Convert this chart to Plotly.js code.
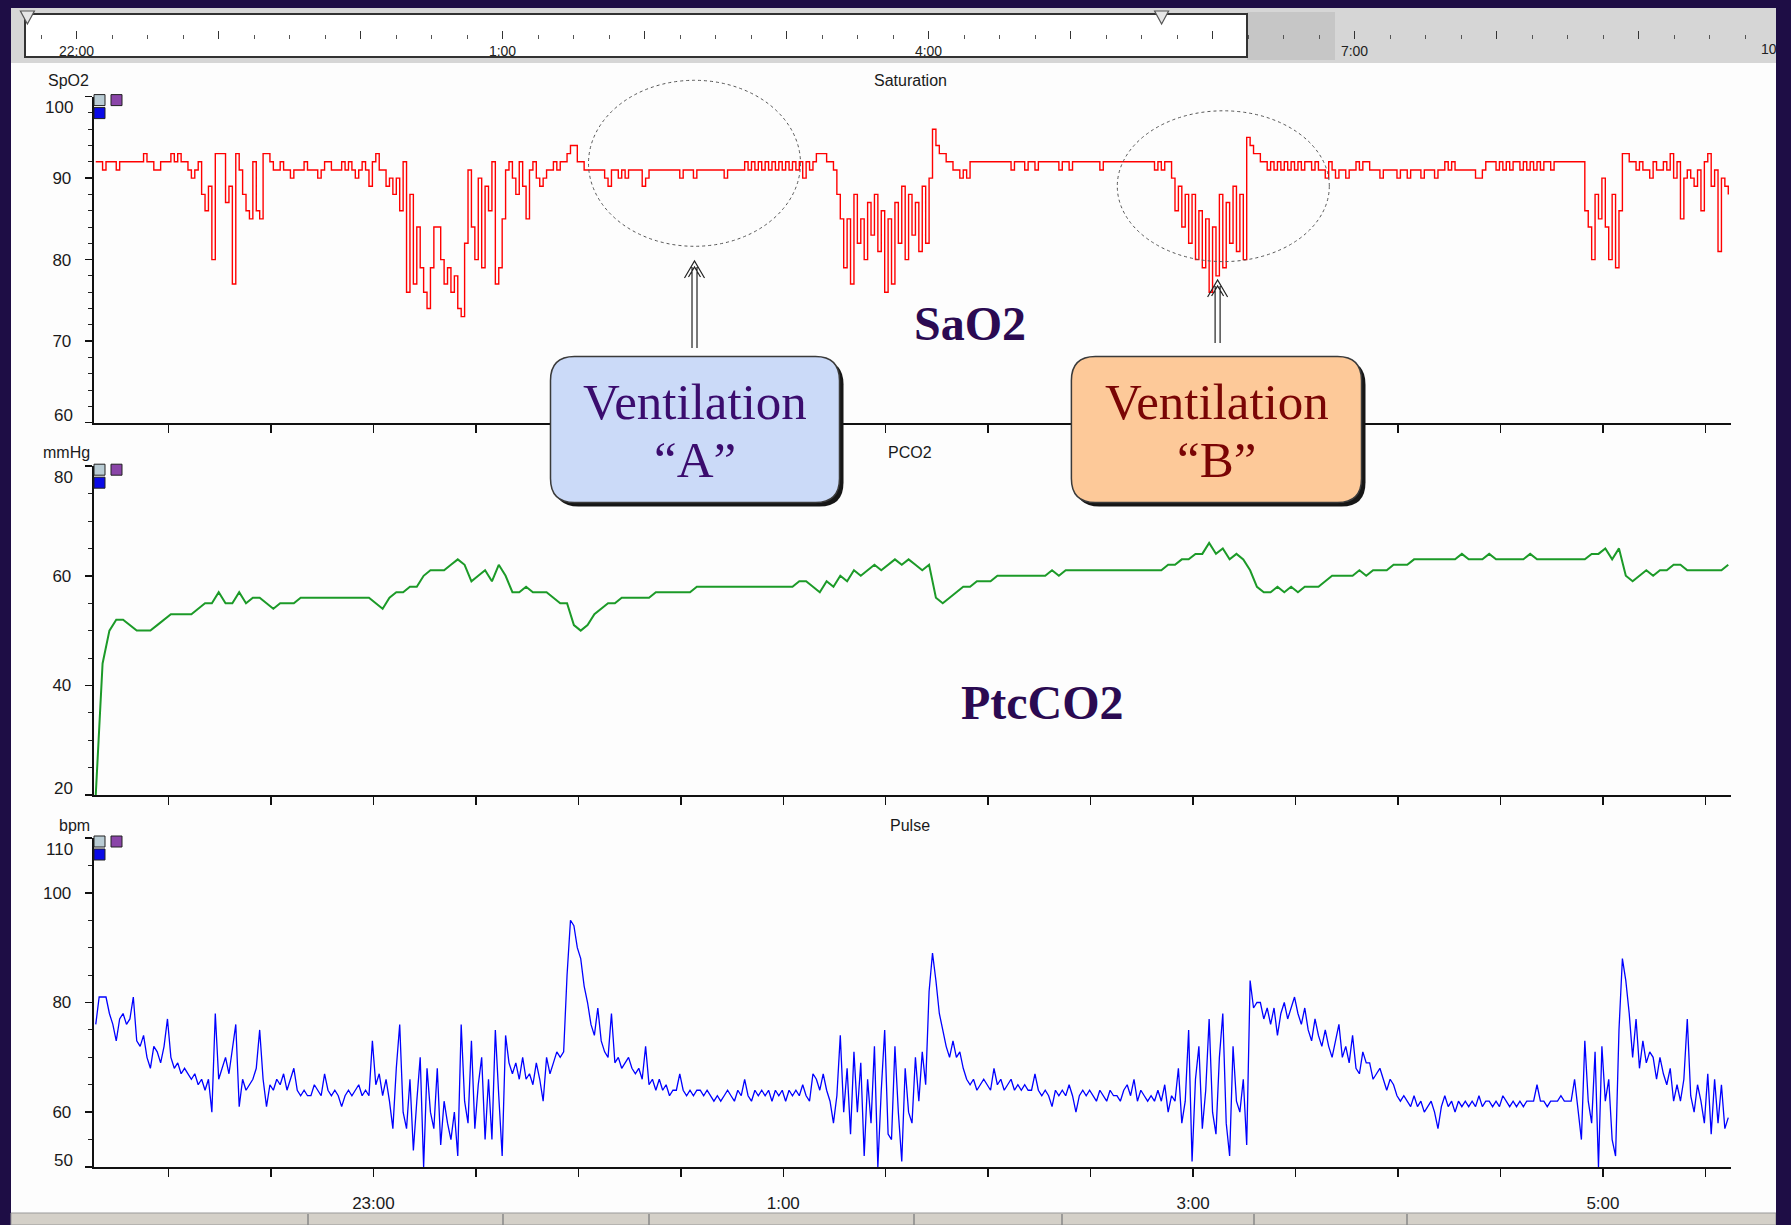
<!DOCTYPE html>
<html>
<head>
<meta charset="utf-8">
<script src="https://cdn.plot.ly/plotly-3.0.1.min.js"></script>
<style>
  html, body { margin: 0; padding: 0; background: #1e0d45; }
  #chart { width: 1791px; height: 1225px; }
</style>
</head>
<body>
<div id="chart"></div>
<script>
// Overnight recording: SpO2 and pulse sampled every minute, PCO2 every 2 minutes.
const startHour = 21.645;          // 21:38:42, first sample
const stepMinutes = 1;
const pco2StepMinutes = 2;

const spo2 = [
  92,92,91,92,92,92,91,92,92,92,92,92,92,92,93,92,92,91,91,92,
  92,92,93,92,93,92,92,91,90,91,92,88,86,89,80,93,93,93,87,89,
  77,93,91,88,86,85,92,86,85,93,93,92,91,91,92,91,91,90,91,91,
  91,92,91,91,91,90,91,92,92,91,91,91,92,91,92,91,90,91,92,91,
  89,92,93,91,91,89,90,88,90,86,92,76,88,77,84,79,76,74,79,84,
  84,80,77,79,76,78,74,73,82,91,84,80,90,79,89,86,92,77,79,85,
  91,92,90,88,92,89,85,91,92,90,89,90,91,91,92,91,92,92,93,94,
  94,92,92,91,91,91,91,91,91,90,89,91,91,90,91,90,91,91,91,91,
  89,90,91,91,91,91,91,91,91,91,91,90,91,91,91,90,91,91,91,91,
  91,91,91,91,90,91,91,91,91,91,92,91,92,91,92,91,92,91,92,91,
  92,91,92,91,92,91,92,90,92,91,92,93,93,93,92,92,91,88,85,79,
  85,77,88,82,85,80,87,83,88,81,86,76,85,77,87,82,89,80,88,83,
  87,81,89,82,90,96,94,93,93,92,92,91,91,90,91,90,92,92,92,92,
  92,92,92,92,92,92,92,92,91,92,92,92,91,92,92,91,92,92,92,92,
  92,92,91,92,92,91,92,92,92,92,92,92,92,92,91,92,92,92,92,92,
  92,92,92,92,92,92,92,92,92,92,91,92,91,92,92,90,86,89,84,88,
  82,88,80,86,79,85,76,84,78,88,79,87,82,89,81,88,80,95,94,93,
  93,92,92,91,92,91,92,91,92,91,92,91,92,91,92,92,91,92,91,91,
  90,92,91,90,91,91,90,91,91,92,91,92,92,91,91,91,90,91,91,91,
  91,90,91,91,90,91,91,91,90,91,91,91,90,91,91,92,91,92,91,91,
  91,91,91,91,90,90,91,92,92,92,91,92,91,92,91,92,92,91,92,91,
  92,91,92,91,92,92,91,92,92,92,92,92,92,92,92,92,86,84,80,88,
  85,90,84,80,88,79,86,93,93,92,92,91,92,91,91,90,92,91,91,92,
  91,93,90,92,85,90,91,90,89,91,86,92,93,89,91,81,90,89,88
];

const pulse = [
  76,81,81,81,78,76,73,77,78,76,77,81,73,72,74,70,68,72,71,69,
  72,77,70,68,69,67,68,67,66,67,65,66,64,66,60,78,66,68,70,67,
  72,76,61,66,64,65,66,68,75,66,61,65,64,66,65,67,64,66,68,64,
  63,64,63,63,65,64,63,67,64,63,64,63,61,63,64,63,64,65,63,64,
  63,73,65,67,63,66,62,57,68,76,60,57,66,53,62,70,50,68,60,57,
  68,54,62,58,55,60,52,76,62,58,73,57,65,70,55,66,55,75,63,52,
  74,69,67,69,66,70,66,67,65,69,66,62,70,67,69,71,70,71,85,95,
  94,90,88,83,80,76,74,79,73,71,70,78,69,70,68,69,70,68,67,68,
  66,72,65,66,64,66,64,65,63,64,64,67,64,63,64,63,64,64,63,64,
  63,62,63,62,63,64,63,62,64,63,66,63,62,64,63,64,63,64,62,64,
  63,64,62,64,63,64,63,65,63,62,67,66,64,67,64,62,58,63,74,60,
  68,56,71,60,69,52,66,58,72,50,64,75,56,55,72,60,51,68,60,58,
  70,62,71,65,82,89,84,78,75,72,70,73,70,71,68,66,65,66,64,65,
  66,65,64,68,65,66,64,65,66,64,65,64,65,64,64,67,64,63,64,63,
  61,64,63,64,63,65,63,60,63,64,63,64,63,62,64,63,62,64,63,63,
  62,64,65,63,66,62,64,63,62,63,62,64,62,65,60,63,62,68,58,62,
  75,51,66,72,57,64,77,60,56,70,78,58,52,72,62,60,66,54,84,79,
  80,80,77,79,76,79,74,78,80,77,79,81,78,76,79,75,73,77,74,72,
  75,72,70,73,76,70,72,69,74,68,67,71,69,69,66,67,68,66,64,66,
  65,63,62,63,62,61,63,61,62,60,61,62,60,57,61,63,61,62,60,62,
  61,62,61,62,61,63,61,62,62,61,62,61,63,62,61,62,61,62,61,62,
  62,62,65,62,62,61,62,62,62,63,62,62,62,66,60,55,73,62,58,71,
  50,72,62,66,55,52,75,88,84,78,70,77,68,73,69,71,70,66,70,67,
  65,68,62,65,62,66,77,63,60,65,62,58,67,56,66,58,65,57,59
];

const pco2 = [
  20,44,50,52,52,51,50,50,50,51,
  52,53,53,53,53,54,55,55,57,55,
  55,57,55,56,56,55,54,55,55,55,
  56,56,56,56,56,56,56,56,56,56,
  56,55,54,56,57,57,58,58,60,61,
  61,61,62,63,62,59,60,61,59,62,
  60,57,57,58,57,57,57,56,55,55,
  51,50,51,53,54,55,55,56,56,56,
  56,56,57,57,57,57,57,57,58,58,
  58,58,58,58,58,58,58,58,58,58,
  58,58,58,59,59,58,57,59,58,60,
  59,61,60,61,62,61,62,63,62,63,
  62,61,62,56,55,56,57,58,58,59,
  59,59,60,60,60,60,60,60,60,60,
  61,60,61,61,61,61,61,61,61,61,
  61,61,61,61,61,61,61,62,62,63,
  63,64,64,66,64,65,63,64,63,61,
  58,57,57,58,57,58,57,58,58,58,
  59,60,60,60,60,61,60,61,61,61,
  62,62,62,63,63,63,63,63,63,63,
  64,63,63,63,64,63,63,63,63,63,
  64,63,63,63,63,63,63,63,63,64,
  64,65,63,65,60,59,60,61,60,61,
  61,62,62,61,61,61,61,61,61,62
];

// Time axis (hours; values past 24 are after midnight)
const axisTickHours = [22,22.5,23,23.5,24,24.5,25,25.5,26,26.5,27,27.5,28,28.5,29,29.5];
const axisTickText  = ['','','23:00','','','','1:00','','','','3:00','','','','5:00',''];
const overviewHours = [22,23,24,25,26,27,28,29,30,31,32,33];
const overviewText  = ['22:00','','','1:00','','','4:00','','','7:00','',''];
const overviewEdgeLabel = '10';

// Value axes: ticks, and which tick labels sit inside the axis ends
const spo2Ticks  = [60,70,80,90,100];
const pco2Ticks  = [20,40,60,80];
const pulseTicks = [50,60,80,100,110];

const hoursAt = (arr, step) => arr.map((_, i) => startHour + i * step / 60);

// ---------- page geometry helpers (pixels -> paper fractions) ----------
const W = 1791, H = 1225;
const px = x => x / W;
const py = y => 1 - y / H;
const P = (x, y) => px(x).toFixed(5) + ',' + py(y).toFixed(5);

function roundedPath(x0, y0, x1, y1, r) {
  return 'M' + P(x0 + r, y0) + ' L' + P(x1 - r, y0) + ' Q' + P(x1, y0) + ' ' + P(x1, y0 + r) +
    ' L' + P(x1, y1 - r) + ' Q' + P(x1, y1) + ' ' + P(x1 - r, y1) +
    ' L' + P(x0 + r, y1) + ' Q' + P(x0, y1) + ' ' + P(x0, y1 - r) +
    ' L' + P(x0, y0 + r) + ' Q' + P(x0, y0) + ' ' + P(x0 + r, y0) + ' Z';
}
function rect(x0, y0, x1, y1, fill, line, layer) {
  return { type: 'rect', xref: 'paper', yref: 'paper', x0: px(x0), x1: px(x1), y0: py(y1), y1: py(y0),
    fillcolor: fill, line: line || { width: 0 }, layer: layer || 'below' };
}
function arrowPath(x, tip, bottom) {
  return 'M' + P(x - 2.5, bottom) + ' L' + P(x - 2.5, tip + 6) +
    ' M' + P(x + 2.5, bottom) + ' L' + P(x + 2.5, tip + 6) +
    ' M' + P(x - 10, tip + 17) + ' L' + P(x, tip) + ' L' + P(x + 10, tip + 17) +
    ' M' + P(x - 6, tip + 16) + ' L' + P(x, tip + 6) + ' L' + P(x + 6, tip + 16);
}

const axisLeft = 93.7;
const panelX = [px(axisLeft), px(1731)];
const timeRange = [21.635, 29.625];
const panelTop = { p1: 96.6, p2: 466.2, p3: 838 };

const labelFamily = 'Liberation Sans, Arial, sans-serif';
const tickFont = { family: labelFamily, size: 17, color: '#1a1a1a' };

const xCommon = {
  range: timeRange, domain: panelX, showgrid: false, zeroline: false,
  showline: true, linecolor: '#111', linewidth: 2,
  ticks: 'outside', ticklen: 8, tickwidth: 1.5, tickcolor: '#111',
  tickmode: 'array', tickvals: axisTickHours, ticktext: axisTickText,
  tickfont: { family: labelFamily, size: 17, color: '#1a1a1a' },
  fixedrange: true
};
// End-of-axis labels are drawn separately (nudged inside the axis span)
function yAxis(domain, range, ticks, minorStep, anchor) {
  const text = ticks.map(v => (v === range[0] || v === range[1]) ? '' : String(v));
  return {
    domain: domain, range: range, anchor: anchor, showgrid: false, zeroline: false,
    showline: true, linecolor: '#111', linewidth: 2,
    ticks: 'outside', ticklen: 7, tickwidth: 1.5, tickcolor: '#111',
    tickmode: 'array', tickvals: ticks, ticktext: text, tickfont: tickFont, ticklabelstandoff: 10,
    minor: { tickmode: 'linear', tick0: range[0], dtick: minorStep, ticks: 'outside', ticklen: 4, tickwidth: 1, tickcolor: '#222' },
    fixedrange: true
  };
}
function endLabels(yref, range) {
  return [
    { text: String(range[1]), xref: 'paper', yref: yref, x: px(axisLeft), y: range[1], xanchor: 'right', yanchor: 'middle',
      xshift: -19, yshift: -11, showarrow: false, font: tickFont },
    { text: String(range[0]), xref: 'paper', yref: yref, x: px(axisLeft), y: range[0], xanchor: 'right', yanchor: 'middle',
      xshift: -19, yshift: 7, showarrow: false, font: tickFont }
  ];
}

const traces = [
  { type: 'scatter', mode: 'lines', x: hoursAt(spo2, stepMinutes), y: spo2, xaxis: 'x', yaxis: 'y',
    line: { color: '#ff0000', width: 1.4, shape: 'hv' }, hoverinfo: 'skip' },
  { type: 'scatter', mode: 'lines', x: hoursAt(pco2, pco2StepMinutes), y: pco2, xaxis: 'x2', yaxis: 'y2',
    line: { color: '#1c9a28', width: 2, shape: 'linear' }, hoverinfo: 'skip' },
  { type: 'scatter', mode: 'lines', x: hoursAt(pulse, stepMinutes), y: pulse, xaxis: 'x3', yaxis: 'y3',
    line: { color: '#0000ff', width: 1.3 }, hoverinfo: 'skip' },
  { type: 'scatter', mode: 'lines', x: [], y: [], xaxis: 'x4', yaxis: 'y4', hoverinfo: 'skip' }
];

// ---------- window chrome ----------
const shapes = [
  rect(11, 8, 1776, 1225, '#fdfdfd'),
  rect(11, 8, 1776, 63, '#d6d6d6'),
  rect(1247, 12, 1335, 60, '#c6c6c6'),
  rect(25, 14, 1247, 57, '#ffffff', { color: '#333', width: 2 }),
  rect(11, 1213, 1776, 1225, '#d4d0c8', { color: '#999', width: 1 }),
];
[308, 503, 649, 914, 1062, 1254, 1407].forEach(x => {
  shapes.push({ type: 'line', xref: 'paper', yref: 'paper', x0: px(x), x1: px(x), y0: py(1214), y1: py(1225),
    line: { color: '#888', width: 1.5 }, layer: 'below' });
});
[27.4, 1161.6].forEach(x => {
  shapes.push({ type: 'path', xref: 'paper', yref: 'paper', layer: 'above',
    path: 'M' + P(x - 7, 11) + ' L' + P(x + 7, 11) + ' L' + P(x, 24) + ' Z',
    fillcolor: '#e6e6e6', line: { color: '#555', width: 1.2 } });
});

// small channel markers at the top of each value axis
Object.values(panelTop).forEach(top => {
  shapes.push(rect(94, top - 2, 105, top + 9, '#b9ccd4', { color: '#222', width: 1 }, 'above'));
  shapes.push(rect(111, top - 2, 122, top + 9, '#8a45a8', { color: '#222', width: 1 }, 'above'));
  shapes.push(rect(94, top + 11, 105, top + 22, '#0a0ae6', { color: '#222', width: 1 }, 'above'));
});

// highlighted regions
shapes.push({ type: 'circle', xref: 'paper', yref: 'paper', layer: 'above',
  x0: px(588.5), x1: px(800.5), y0: py(246.3), y1: py(80.3),
  line: { color: '#555', width: 1, dash: 'dot' } });
shapes.push({ type: 'circle', xref: 'paper', yref: 'paper', layer: 'above',
  x0: px(1117.3), x1: px(1329.3), y0: py(261.6), y1: py(110.8),
  line: { color: '#555', width: 1, dash: 'dot' } });

// arrows
shapes.push({ type: 'path', xref: 'paper', yref: 'paper', layer: 'above',
  path: arrowPath(694.5, 261, 348), line: { color: '#222', width: 1.2 } });
shapes.push({ type: 'path', xref: 'paper', yref: 'paper', layer: 'above',
  path: arrowPath(1217.6, 280, 343), line: { color: '#222', width: 1.2 } });

// callout boxes with drop shadow
const boxA = [550.5, 356.4, 839.5, 502.6];
const boxB = [1071.4, 356.4, 1361.5, 502.6];
[[boxA, '#cbdaf8'], [boxB, '#fdc999']].forEach(([b, fill]) => {
  shapes.push({ type: 'path', xref: 'paper', yref: 'paper', layer: 'above',
    path: roundedPath(b[0] + 4, b[1] + 4, b[2] + 4, b[3] + 4, 24), fillcolor: '#161616', line: { width: 0 } });
  shapes.push({ type: 'path', xref: 'paper', yref: 'paper', layer: 'above',
    path: roundedPath(b[0], b[1], b[2], b[3], 24), fillcolor: fill, line: { color: '#3a3a3a', width: 1.5 } });
});

// dark frame on the right edge
shapes.push(rect(1776, 0, 1791, 1225, '#1e0d45', { width: 0 }, 'above'));

const small = (text, x, y) => ({ text: text, xref: 'paper', yref: 'paper', x: px(x), y: py(y),
  xanchor: 'center', yanchor: 'middle', showarrow: false,
  font: { family: labelFamily, size: 16, color: '#1a1a1a' } });
const serif = (text, x, y, size, color, bold) => ({ text: bold ? '<b>' + text + '</b>' : text,
  xref: 'paper', yref: 'paper', x: px(x), y: py(y), xanchor: 'center', yanchor: 'middle', showarrow: false,
  font: { family: 'Liberation Serif, Times New Roman, serif', size: size, color: color } });

const annotations = [
  small('SpO2', 68.5, 80), small('Saturation', 910, 80),
  small('mmHg', 66, 452), small('PCO2', 910, 452),
  small('bpm', 74, 825), small('Pulse', 910, 825),
  { text: overviewEdgeLabel, xref: 'paper', yref: 'paper', x: px(1759), y: py(49), xanchor: 'left', yanchor: 'middle',
    showarrow: false, font: { family: labelFamily, size: 14, color: '#222' } },
  serif('Ventilation', 695, 402, 51, '#3b0c6e'),
  serif('\u201CA\u201D', 695, 460, 51, '#3b0c6e'),
  serif('Ventilation', 1216.5, 402, 51, '#7a0505'),
  serif('\u201CB\u201D', 1216.5, 460, 51, '#7a0505'),
  serif('SaO2', 969.7, 323, 48, '#2b0a52', true),
  serif('PtcCO2', 1042.8, 702.5, 48, '#2b0a52', true)
].concat(endLabels('y', [60, 100]), endLabels('y2', [20, 80]), endLabels('y3', [50, 110]));

const layout = {
  width: W, height: H,
  margin: { l: 0, r: 0, t: 0, b: 0, pad: 0 },
  paper_bgcolor: '#1e0d45', plot_bgcolor: 'rgba(0,0,0,0)',
  showlegend: false,
  xaxis:  Object.assign({}, xCommon, { anchor: 'y',  showticklabels: false }),
  xaxis2: Object.assign({}, xCommon, { anchor: 'y2', showticklabels: false }),
  xaxis3: Object.assign({}, xCommon, { anchor: 'y3', showticklabels: true, ticklabelstandoff: 12 }),
  yaxis:  yAxis([py(422.6), py(panelTop.p1)], [60, 100], spo2Ticks, 2, 'x'),
  yaxis2: yAxis([py(795), py(panelTop.p2)], [20, 80], pco2Ticks, 5, 'x2'),
  yaxis3: yAxis([py(1167), py(panelTop.p3)], [50, 110], pulseTicks, 5, 'x3'),
  xaxis4: {
    domain: [px(11), px(1776)], range: [21.5387, 33.9683], anchor: 'y4',
    showline: false, showgrid: false, zeroline: false,
    tickmode: 'array', tickvals: overviewHours, ticktext: overviewText,
    ticks: 'inside', ticklen: 8, tickwidth: 1.3, tickcolor: '#333',
    minor: { tickmode: 'linear', tick0: 22, dtick: 0.25, ticks: 'inside', ticklen: 4, tickwidth: 1, tickcolor: '#555' },
    tickfont: { family: labelFamily, size: 14, color: '#222' },
    ticklabelstandoff: 2, fixedrange: true
  },
  yaxis4: { domain: [py(38.5), py(14)], anchor: 'x4', range: [0, 1], visible: false, fixedrange: true },
  shapes: shapes,
  annotations: annotations
};

Plotly.newPlot('chart', traces, layout, { displayModeBar: false, staticPlot: true });
</script>
</body>
</html>
